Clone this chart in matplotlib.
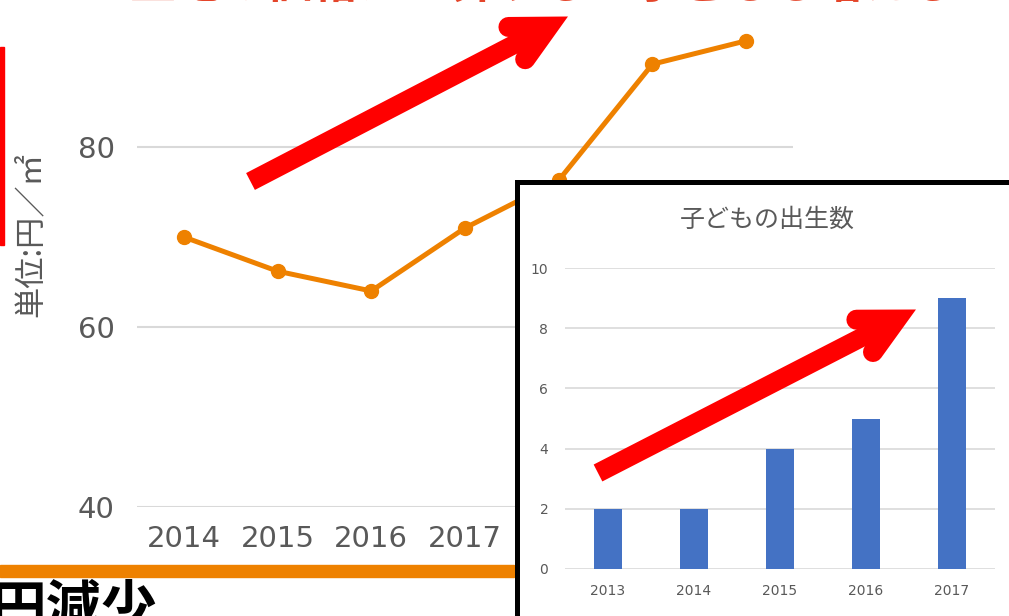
import numpy as np
import matplotlib
matplotlib.use('Agg')
import matplotlib.pyplot as plt
from matplotlib.lines import Line2D
from matplotlib.patches import Rectangle

W, H = 1009, 616

# background chart: land price (yen per m2)
years = ['2014', '2015', '2016', '2017', '2018', '2019', '2020']
price = [70.0, 66.2, 64.0, 71.0, 76.3, 89.2, 91.8]
price_ticks = [40, 60, 80, 100]

# inset chart: number of births
birth_years = ['2013', '2014', '2015', '2016', '2017']
births = [2, 2, 4, 5, 9]
birth_ticks = [0, 2, 4, 6, 8, 10]

ORANGE = '#ee8100'
GREY = '#595959'
GRID = '#d9d9d9'
BLUE = '#4472c4'
RED = '#ff0000'
JP = ['Noto Sans CJK JP', 'DejaVu Sans']

fig = plt.figure(figsize=(W / 100, H / 100), dpi=100)


# helpers to place things by pixel (y measured from top)
def fx(x):
    return x / W


def fy(y):
    return 1 - y / H


def box(l, t, r, b):
    return [fx(l), fy(b), fx(r) - fx(l), fy(t) - fy(b)]


def arrow(tail, tip, lw=19, head_len=40, spread=27):
    tail = np.array(tail, float)
    tip = np.array(tip, float)
    u = (tip - tail) / np.hypot(*(tip - tail))
    apex = tip - u * (lw / 2) / np.sin(np.radians(spread))

    def rot(v, a):
        a = np.radians(a)
        c, s = np.cos(a), np.sin(a)
        return np.array([c * v[0] - s * v[1], s * v[0] + c * v[1]])

    b1 = apex + rot(-u, spread) * head_len
    b2 = apex + rot(-u, -spread) * head_len
    shaft = Line2D([fx(tail[0]), fx(apex[0])], [fy(tail[1]), fy(apex[1])],
                   transform=fig.transFigure, color=RED, lw=lw * 0.72,
                   solid_capstyle='butt', zorder=10)
    head = Line2D([fx(b1[0]), fx(apex[0]), fx(b2[0])],
                  [fy(b1[1]), fy(apex[1]), fy(b2[1])],
                  transform=fig.transFigure, color=RED, lw=(lw + 1) * 0.72,
                  solid_capstyle='round', solid_joinstyle='miter', zorder=10)
    fig.add_artist(shaft)
    fig.add_artist(head)


### Main (background) line chart ###
ax = fig.add_axes(box(137, 507 - 60 * 9, 793, 507))
x = np.arange(len(years))
ax.plot(x, price, color=ORANGE, lw=3.6, marker='o', ms=10, clip_on=False)
ax.set_xlim(-0.5, len(years) - 0.5)
ax.set_ylim(40, 100)
ax.set_xticks(x)
ax.set_xticklabels(years)
ax.set_yticks(price_ticks)
ax.grid(axis='y', color=GRID, lw=1.5)
ax.set_axisbelow(True)
for s in ax.spines.values():
    s.set_visible(False)
ax.tick_params(axis='x', length=0, pad=13, labelsize=21, labelcolor=GREY)
ax.tick_params(axis='y', length=0, pad=16, labelsize=21, labelcolor=GREY)

fig.text(fx(31), fy(235), '単位:円／㎡', rotation=90, ha='center', va='center',
         fontsize=22.5, color=GREY, family=JP)

# slide decorations around the chart (title is mostly cut off at the top)
fig.text(fx(543), fy(-2), '土地の価格が上昇すると子どもも増える', ha='center',
         va='baseline', fontsize=33, fontweight='bold', color='#e4452a',
         family=JP)
fig.add_artist(Rectangle((fx(0), fy(245)), fx(3.5), fy(47) - fy(245),
                         transform=fig.transFigure, color=RED, zorder=3))
fig.add_artist(Rectangle((fx(0), fy(577)), fx(514), fy(565) - fy(577),
                         transform=fig.transFigure, color=ORANGE, zorder=3))
fig.text(fx(157), fy(582), '円減少', ha='right', va='top', fontsize=40,
         fontweight='bold', color='black', family=JP)

arrow((250.5, 181.5), (567, 17))

### Inset bar chart ###
fig.add_artist(Rectangle((fx(516.5), fy(625)), fx(520), fy(181.5) - fy(625),
                         transform=fig.transFigure, facecolor='white',
                         edgecolor='black', lw=3.6, zorder=4))

axi = fig.add_axes(box(565, 268, 995, 569))
axi.set_zorder(5)
axi.patch.set_alpha(0)
xb = np.arange(len(birth_years))
axi.bar(xb, births, width=0.32, color=BLUE, zorder=3)
axi.set_xlim(-0.5, len(birth_years) - 0.5)
axi.set_ylim(0, 10)
axi.set_xticks(xb)
axi.set_xticklabels(birth_years)
axi.set_yticks(birth_ticks)
axi.grid(axis='y', color=GRID, lw=1.2)
axi.set_axisbelow(True)
for s in axi.spines.values():
    s.set_visible(False)
axi.tick_params(axis='x', length=0, pad=11, labelsize=10, labelcolor=GREY)
axi.tick_params(axis='y', length=0, pad=12, labelsize=10, labelcolor=GREY)

fig.text(fx(767), fy(220), '子どもの出生数', ha='center', va='center',
         fontsize=18, color=GREY, family=JP, zorder=6)

arrow((598, 473), (915, 310))

fig.savefig('out.png', dpi=100)
